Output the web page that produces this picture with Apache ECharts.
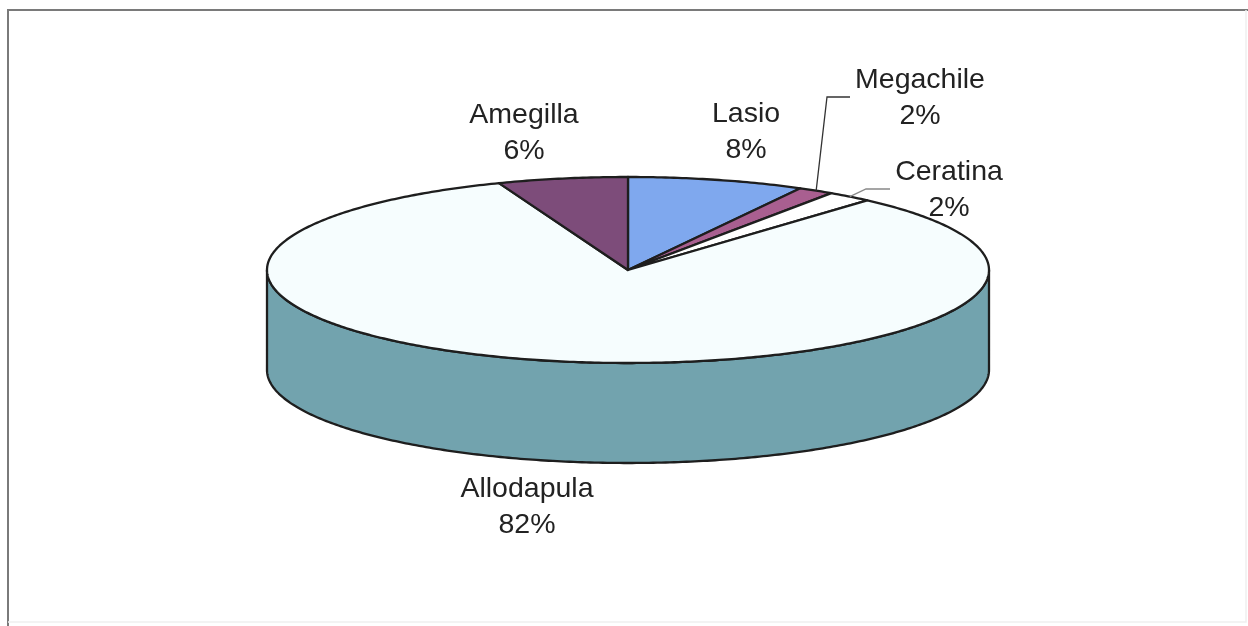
<!DOCTYPE html>
<html>
<head>
<meta charset="utf-8">
<script src="https://cdn.jsdelivr.net/npm/echarts@6/dist/echarts.min.js"></script>
<style>html,body{margin:0;padding:0;background:#fff}#c{width:1248px;height:626px}</style>
</head>
<body>
<div id="c"></div>
<script>
// Data
const categories = ['Lasio', 'Megachile', 'Ceratina', 'Allodapula', 'Amegilla'];
const shares = [7.9, 1.6, 2.0, 82.4, 5.8];

// Styles
const topColors = ['#7fa8ee', '#a95f90', '#ffffff', '#f6fdfe', '#7d4c7a'];
const sideColors = ['#5f7fb5', '#7f4a6c', '#cccccc', '#72a3ae', '#5e3a5c'];

// Layout
const pie = { cx: 628, cy: 270, rx: 361, ry: 93, depth: 100 };
const labelCentres = [[746, 132], [920, 98], [949, 190], [527, 507], [524, 133]];
const leaderBends = [null, [[827, 97], [850, 97]], [[866, 189], [890, 189]], null, null];
const ink = '#1e1e1e';

const total = shares.reduce((a, b) => a + b, 0);
let running = 0;
const spans = shares.map(v => {
  const from = running / total * 360;
  running += v;
  return [from, running / total * 360];
});

function edge(deg, dy) {
  const t = deg * Math.PI / 180;
  return [pie.cx + pie.rx * Math.sin(t), pie.cy - pie.ry * Math.cos(t) + (dy || 0)];
}
function arc(a, b, dy) {
  const n = Math.max(2, Math.ceil(Math.abs(b - a) * 1.5));
  const pts = [];
  for (let i = 0; i <= n; i++) pts.push(edge(a + (b - a) * i / n, dy));
  return pts;
}

function renderItem(params, api) {
  const i = params.dataIndex;
  const [a, b] = spans[i];
  const children = [];
  const wa = Math.max(a, 90), wb = Math.min(b, 270);
  if (wb > wa) {
    children.push({
      type: 'polygon',
      shape: { points: arc(wa, wb, 0).concat(arc(wb, wa, pie.depth)) },
      style: { fill: sideColors[i], stroke: ink, lineWidth: 2.3, lineJoin: 'round' }
    });
  }
  children.push({
    type: 'polygon',
    shape: { points: [[pie.cx, pie.cy]].concat(arc(a, b, 0)) },
    style: { fill: topColors[i], stroke: ink, lineWidth: 2.3, lineJoin: 'round' }
  });
  if (leaderBends[i]) {
    children.push({
      type: 'polyline',
      z2: 50,
      shape: { points: [edge((a + b) / 2, 0)].concat(leaderBends[i]) },
      style: { fill: 'none', stroke: i === 1 ? '#333' : '#888', lineWidth: 1.3 }
    });
  }
  children.push({
    type: 'text',
    z2: 100,
    style: {
      x: labelCentres[i][0],
      y: labelCentres[i][1],
      text: categories[i] + '\n' + Math.round(api.value(0)) + '%',
      align: 'center',
      verticalAlign: 'middle',
      fontFamily: '"Liberation Sans", Arial, sans-serif',
      fontSize: 28.5,
      lineHeight: 36,
      fill: '#222'
    }
  });
  return { type: 'group', children };
}

const chart = echarts.init(document.getElementById('c'), null, { renderer: 'canvas' });
chart.setOption({
  animation: false,
  backgroundColor: '#ffffff',
  graphic: [
    { type: 'polyline', silent: true, shape: { points: [[8, 626], [8, 10], [1248, 10]] },
      style: { fill: 'none', stroke: '#7a7a7a', lineWidth: 2 } },
    { type: 'polyline', silent: true, shape: { points: [[8, 622], [1246, 622], [1246, 10]] },
      style: { fill: 'none', stroke: '#f0f0f0', lineWidth: 1.5 } }
  ],
  series: [{
    type: 'custom',
    coordinateSystem: 'none',
    silent: true,
    renderItem,
    data: shares.map((v, i) => ({ name: categories[i], value: [v] }))
  }]
});
</script>
</body>
</html>
